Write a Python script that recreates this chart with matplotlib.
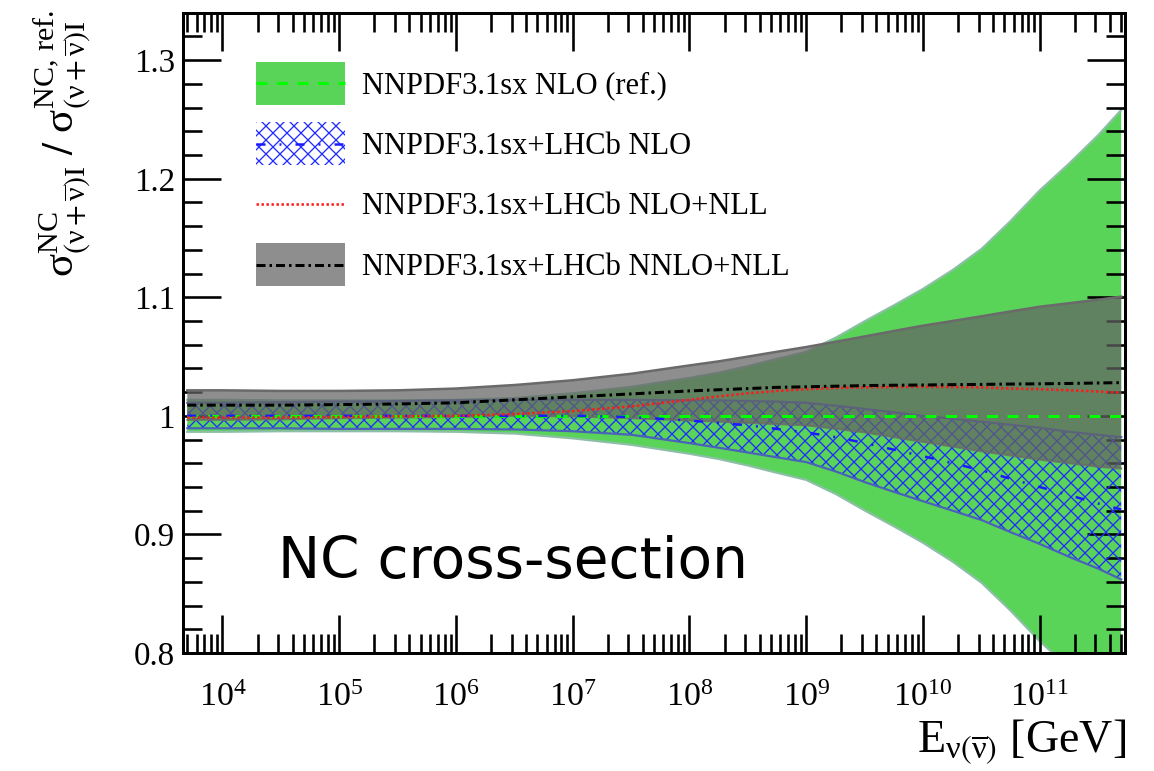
import numpy as np
import matplotlib
matplotlib.use("Agg")
import matplotlib.pyplot as plt
from matplotlib.patches import Patch
from matplotlib.lines import Line2D
from matplotlib.legend_handler import HandlerTuple, HandlerLine2D
from matplotlib.ticker import (FixedLocator, FixedFormatter, MultipleLocator,
                               NullFormatter, LogLocator, LogFormatterSciNotation)

# ---------------- data ----------------
energy_gev = [5.0e3, 1.0e4, 3.2e4, 1.0e5, 3.2e5, 1.0e6, 3.2e6, 1.0e7, 3.2e7, 1.0e8,
              1.8e8, 3.2e8, 5.6e8, 1.0e9, 1.8e9, 3.2e9, 5.6e9, 1.0e10, 1.8e10, 3.2e10,
              5.6e10, 1.0e11, 1.8e11, 3.2e11, 5.0e11]

# NNPDF3.1sx NLO (ref.)
ref_central = [1.0, 1.0, 1.0, 1.0, 1.0, 1.0, 1.0, 1.0, 1.0, 1.0,
               1.0, 1.0, 1.0, 1.0, 1.0, 1.0, 1.0, 1.0, 1.0, 1.0,
               1.0, 1.0, 1.0, 1.0, 1.0]
ref_upper = [1.0135, 1.0135, 1.013, 1.013, 1.013, 1.0135, 1.015, 1.019, 1.0245, 1.032,
             1.0365, 1.042, 1.048, 1.054, 1.066, 1.080, 1.093, 1.107, 1.123, 1.141,
             1.164, 1.190, 1.213, 1.237, 1.258]
ref_lower = [0.9865, 0.9865, 0.987, 0.987, 0.987, 0.9865, 0.985, 0.981, 0.9755, 0.968,
             0.9635, 0.958, 0.952, 0.946, 0.934, 0.920, 0.907, 0.893, 0.877, 0.859,
             0.836, 0.810, 0.787, 0.763, 0.742]

# NNPDF3.1sx+LHCb NLO
lhcb_nlo_central = [1.000, 1.000, 1.000, 1.000, 1.000, 1.000, 1.000, 1.000, 0.999, 0.996,
                    0.994, 0.992, 0.989, 0.986, 0.982, 0.977, 0.9715, 0.966, 0.960, 0.954,
                    0.947, 0.940, 0.933, 0.926, 0.921]
lhcb_nlo_upper = [1.011, 1.011, 1.0115, 1.012, 1.0125, 1.013, 1.0135, 1.0135, 1.0135, 1.013,
                  1.013, 1.0125, 1.012, 1.011, 1.0085, 1.0058, 1.003, 1.000, 0.9975, 0.995,
                  0.9925, 0.990, 0.9865, 0.984, 0.982]
lhcb_nlo_lower = [0.9895, 0.9895, 0.9895, 0.989, 0.989, 0.989, 0.9885, 0.987, 0.984, 0.977,
                  0.973, 0.969, 0.965, 0.961, 0.953, 0.944, 0.936, 0.928, 0.920, 0.912,
                  0.902, 0.892, 0.881, 0.871, 0.862]

# NNPDF3.1sx+LHCb NLO+NLL (central only)
lhcb_nlo_nll_central = [0.9985, 0.9985, 0.9985, 0.999, 0.9995, 1.000, 1.0015, 1.004, 1.008, 1.0135,
                        1.0165, 1.019, 1.021, 1.0225, 1.0235, 1.024, 1.0243, 1.0245, 1.0243, 1.024,
                        1.023, 1.0225, 1.0215, 1.0205, 1.0195]

# NNPDF3.1sx+LHCb NNLO+NLL
lhcb_nnlo_nll_central = [1.009, 1.009, 1.009, 1.0095, 1.010, 1.011, 1.0135, 1.016, 1.0185, 1.021,
                         1.022, 1.023, 1.024, 1.0245, 1.025, 1.0255, 1.0258, 1.026, 1.0263, 1.0265,
                         1.0268, 1.027, 1.0273, 1.0277, 1.028]
lhcb_nnlo_nll_upper = [1.0215, 1.0215, 1.021, 1.021, 1.0215, 1.023, 1.026, 1.030, 1.0355, 1.0425,
                       1.046, 1.050, 1.054, 1.058, 1.0625, 1.067, 1.0715, 1.076, 1.080, 1.084,
                       1.088, 1.092, 1.095, 1.098, 1.1005]
lhcb_nnlo_nll_lower = [0.9965, 0.9965, 0.997, 0.998, 0.9985, 0.999, 1.000, 0.9995, 0.998, 0.996,
                       0.995, 0.994, 0.993, 0.992, 0.989, 0.986, 0.982, 0.978, 0.974, 0.970,
                       0.9665, 0.963, 0.960, 0.957, 0.9555]

legend_labels = ["NNPDF3.1sx NLO (ref.)",
                 "NNPDF3.1sx+LHCb NLO",
                 "NNPDF3.1sx+LHCb NLO+NLL",
                 "NNPDF3.1sx+LHCb NNLO+NLL"]

x_tick_values = [1e4, 1e5, 1e6, 1e7, 1e8, 1e9, 1e10, 1e11]
y_tick_values = [0.8, 0.9, 1.0, 1.1, 1.2, 1.3]
y_tick_labels = ["0.8", "0.9", "1", "1.1", "1.2", "1.3"]

# ---------------- style ----------------
DPI = 84


def P(px):
    """pixels -> points at the figure dpi"""
    return px * 72.0 / DPI


plt.rcParams["font.family"] = ["Liberation Serif", "DejaVu Serif"]
plt.rcParams["mathtext.fontset"] = "stix"
plt.rcParams["hatch.linewidth"] = P(1.3)

GREEN = "#59d459"
GREEN_EDGE = "#8cbfa6"
GREEN_LINE = "#00ff00"
BLUE_HATCH = "#1f2bff"
BLUE_EDGE = "#4a62b8"
BLUE_LINE = "#1a1aff"
RED = "#ff1a1a"
GRAY = "#636363"
GRAY_ALPHA = 0.72
GRAY_EDGE = "#6a6a6a"
HATCH = "xx"

lw_green = 3.0
lw_blue = 2.5
lw_red = 2.6
lw_black = 3.0
dash_green = (11 / lw_green, 9.5 / lw_green)
dash_blue = (9 / lw_blue, 14 / lw_blue, 2 / lw_blue, 14 / lw_blue)
dash_red = (2.4 / lw_red, 2.6 / lw_red)
dash_black = (9 / lw_black, 4 / lw_black, 2.5 / lw_black, 4 / lw_black)

W, H = 1154, 771
fig = plt.figure(figsize=((W + 0.3) / DPI, (H + 0.3) / DPI), dpi=DPI)
ax_l, ax_r, ax_t, ax_b = 183, 1125, 13, 653
ax = fig.add_axes([ax_l / W, 1 - ax_b / H, (ax_r - ax_l) / W, (ax_b - ax_t) / H])

# ---------------- bands ----------------
ax.fill_between(energy_gev, ref_lower, ref_upper, facecolor=GREEN,
                edgecolor="none", zorder=1)
ax.plot(energy_gev, ref_upper, color=GREEN_EDGE, lw=P(2.2), zorder=1.1)
ax.plot(energy_gev, ref_lower, color=GREEN_EDGE, lw=P(2.2), zorder=1.1)

ax.fill_between(energy_gev, lhcb_nlo_lower, lhcb_nlo_upper, facecolor="none",
                edgecolor=BLUE_HATCH, hatch=HATCH, linewidth=0, zorder=2)
ax.plot(energy_gev, lhcb_nlo_upper, color=BLUE_EDGE, lw=P(2.2), zorder=2.1)
ax.plot(energy_gev, lhcb_nlo_lower, color=BLUE_EDGE, lw=P(2.2), zorder=2.1)

ax.fill_between(energy_gev, lhcb_nnlo_nll_lower, lhcb_nnlo_nll_upper,
                facecolor=GRAY, alpha=GRAY_ALPHA, edgecolor="none", zorder=3)
ax.plot(energy_gev, lhcb_nnlo_nll_upper, color=GRAY_EDGE, lw=P(2.5), zorder=3.1)
ax.plot(energy_gev, lhcb_nnlo_nll_lower, color=GRAY_EDGE, lw=P(2.0), alpha=0.8, zorder=3.1)

# ---------------- central lines ----------------
ax.plot(energy_gev, ref_central, color=GREEN_LINE, lw=P(lw_green),
        dashes=dash_green, zorder=5)
ax.plot(energy_gev, lhcb_nlo_central, color=BLUE_LINE, lw=P(lw_blue),
        dashes=dash_blue, zorder=5)
ax.plot(energy_gev, lhcb_nlo_nll_central, color=RED, lw=P(lw_red),
        dashes=dash_red, zorder=5.2)
ax.plot(energy_gev, lhcb_nnlo_nll_central, color="black", lw=P(lw_black),
        dashes=dash_black, zorder=5.3)

# ---------------- axes ----------------
ax.set_xscale("log")
ax.set_xlim(4.6e3, 5.42e11)
ax.set_ylim(0.8, 1.34)

ax.xaxis.set_major_locator(FixedLocator(x_tick_values))
ax.xaxis.set_major_formatter(LogFormatterSciNotation())
ax.xaxis.set_minor_locator(LogLocator(base=10, subs=np.arange(2, 10), numticks=300))
ax.xaxis.set_minor_formatter(NullFormatter())
ax.yaxis.set_major_locator(FixedLocator(y_tick_values))
ax.yaxis.set_major_formatter(FixedFormatter(y_tick_labels))
ax.yaxis.set_minor_locator(MultipleLocator(0.02))

ax.tick_params(which="both", direction="in", top=True, right=True,
               width=P(2.6), color="black")
ax.tick_params(which="major", length=P(38))
ax.tick_params(which="minor", length=P(19))
ax.tick_params(axis="y", which="major", labelsize=P(33), pad=P(8))
ax.tick_params(axis="x", which="major", labelsize=P(34), pad=P(29))
for sp in ax.spines.values():
    sp.set_linewidth(P(3))

nu = r"\mathdefault{ν}"
nubar = r"\overline{\mathdefault{ν}}"
ax.set_ylabel(r"$\mathdefault{σ}^{\mathdefault{NC}}_{(" + nu + "+" + nubar + r")\mathdefault{I}}"
              r"\ /\ \mathdefault{σ}^{\mathdefault{NC,\,ref.}}_{(" + nu + "+" + nubar
              + r")\mathdefault{I}}$",
              fontsize=P(43), rotation=90, ha="center", va="center")
ax.yaxis.set_label_coords((62 - ax_l) / (ax_r - ax_l), (ax_b - 143) / (ax_b - ax_t))

ax.set_xlabel(r"$\mathdefault{E}_{" + nu + "(" + nubar + r")}$ [GeV]",
              fontsize=P(46), ha="right", va="baseline")
ax.xaxis.set_label_coords((1126 - ax_l) / (ax_r - ax_l), (ax_b - 752) / (ax_b - ax_t))

ax.text((278 - ax_l) / (ax_r - ax_l), (ax_b - 578) / (ax_b - ax_t), "NC cross-section",
        transform=ax.transAxes, family="DejaVu Sans", fontsize=P(56.5),
        ha="left", va="baseline", zorder=6)


# ---------------- legend ----------------
class CenteredLineHandler(HandlerLine2D):
    """Line drawn through the middle of the legend handle box."""

    def create_artists(self, legend, orig_handle, xdescent, ydescent,
                       width, height, fontsize, trans):
        artists = super().create_artists(legend, orig_handle, xdescent, ydescent,
                                         width, height, fontsize, trans)
        for a in artists:
            yd = np.asarray(a.get_ydata(), dtype=float)
            a.set_ydata(np.full_like(yd, height / 2.0 - ydescent))
        return artists


fs_leg = 30.5
hh = 1.79
h_ref = (Patch(facecolor=GREEN, edgecolor="none"),
         Line2D([], [], color=GREEN_LINE, lw=P(lw_green), dashes=dash_green))
h_nlo = (Patch(facecolor="none", edgecolor=BLUE_HATCH, hatch=HATCH, linewidth=0),
         Line2D([], [], color=BLUE_LINE, lw=P(lw_blue), dashes=dash_blue))
h_nll = Line2D([], [], color=RED, lw=P(lw_red), dashes=dash_red)
h_nnlo = (Patch(facecolor=GRAY, alpha=GRAY_ALPHA, edgecolor="none"),
          Line2D([], [], color="black", lw=P(lw_black), dashes=dash_black))
ax.legend([h_ref, h_nlo, h_nll, h_nnlo], legend_labels,
          handler_map={tuple: HandlerTuple(ndivide=1, pad=0),
                       Line2D: CenteredLineHandler()},
          loc="upper left",
          bbox_to_anchor=((256 - ax_l) / (ax_r - ax_l), (ax_b - 62) / (ax_b - ax_t)),
          frameon=False, fontsize=P(fs_leg), handlelength=89 / fs_leg,
          handleheight=hh, handletextpad=17 / fs_leg,
          labelspacing=17.5 / fs_leg, borderpad=0, borderaxespad=0)

fig.savefig("out.png", dpi=DPI)
